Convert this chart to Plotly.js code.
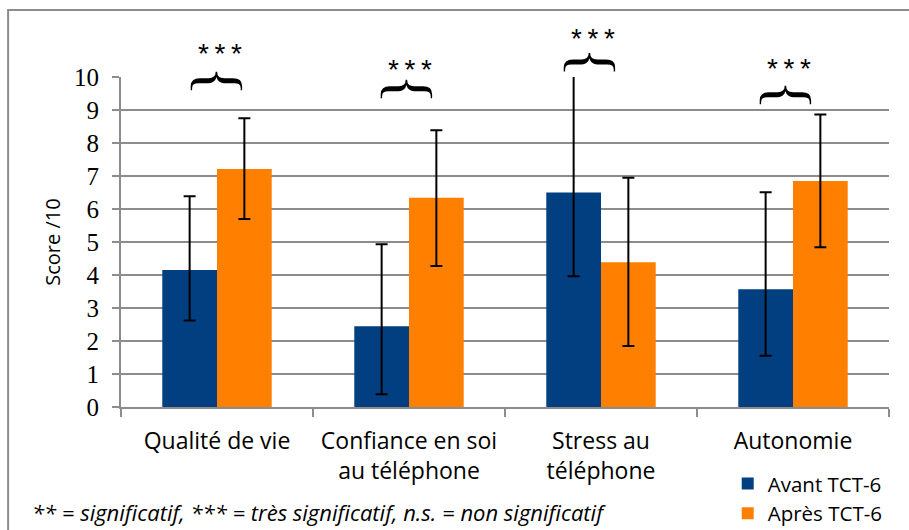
<!DOCTYPE html>
<html>
<head>
<meta charset="utf-8">
<script src="https://cdn.plot.ly/plotly-3.0.1.min.js"></script>
<style>html,body{margin:0;padding:0;background:#fff;}#chart{width:909px;height:530px;}</style>
</head>
<body>
<div id="chart"></div>
<script>
// Data
const categories = ["Qualité de vie", "Confiance en soi<br>au téléphone", "Stress au<br>téléphone", "Autonomie"];
const seriesNames = ["Avant TCT-6", "Après TCT-6"];
const avant = [4.15, 2.45, 6.50, 3.57];
const avantErrPlus = [2.24, 2.48, 3.70, 2.94];
const avantErrMinus = [1.53, 2.06, 2.54, 2.02];
const apres = [7.21, 6.34, 4.39, 6.85];
const apresErrPlus = [1.54, 2.05, 2.56, 2.01];
const apresErrMinus = [1.51, 2.07, 2.54, 2.01];
const significance = ["*\u2009*\u2009*", "*\u2009*\u2009*", "*\u2009*\u2009*", "*\u2009*\u2009*"];
const yTicks = [0,1,2,3,4,5,6,7,8,9,10];
const footnote = "** = significatif, *** = très significatif, n.s. = non significatif";
const yTitle = "Score /10";

const colors = ["#023F80", "#FF8000"];
const gridGray = "#8C8C8C";

const traces = [
  {
    type: "bar", name: seriesNames[0], x: categories, y: avant,
    marker: {color: colors[0]},
    error_y: {type: "data", symmetric: false, array: avantErrPlus, arrayminus: avantErrMinus,
              color: "#000", thickness: 2, width: 6}
  },
  {
    type: "bar", name: seriesNames[1], x: categories, y: apres,
    marker: {color: colors[1]},
    error_y: {type: "data", symmetric: false, array: apresErrPlus, arrayminus: apresErrMinus,
              color: "#000", thickness: 2, width: 6}
  }
];

// brace / stars positions (decoration), y in paper units (range 0..10 -> 0..1)
const braceX = [0.016, 1.005, 1.958, 2.98];
const braceY = [0.988, 0.964, 1.045, 0.945];
const starY = [1.07, 1.024, 1.118, 1.027];

const annotations = [];
for (let i = 0; i < categories.length; i++) {
  annotations.push({
    x: braceX[i], y: braceY[i], xref: "x", yref: "paper",
    text: "{", textangle: 90, showarrow: false,
    font: {family: "Liberation Serif", size: 62, color: "#000"},
    xanchor: "center", yanchor: "middle"
  });
  annotations.push({
    x: braceX[i], y: starY[i], xref: "x", yref: "paper",
    text: significance[i], showarrow: false,
    font: {family: "Liberation Sans", size: 28, color: "#000"},
    xanchor: "center", yanchor: "middle"
  });
}
annotations.push({
  x: -0.1185, y: -0.318, xref: "paper", yref: "paper",
  text: "<i>" + footnote + "</i>", showarrow: false,
  font: {family: "Open Sans", size: 22, color: "#000"},
  xanchor: "left", yanchor: "middle"
});

const layout = {
  width: 909, height: 530,
  margin: {l: 121, r: 20, t: 77, b: 123, autoexpand: false},
  paper_bgcolor: "#fff", plot_bgcolor: "#fff",
  barmode: "group", bargap: 0.43, bargroupgap: 0,
  showlegend: true,
  legend: {x: 0.79, y: -0.172, xanchor: "left", yanchor: "top",
           font: {family: "Open Sans", size: 20.5, color: "#000"},
           bgcolor: "rgba(0,0,0,0)"},
  xaxis: {
    type: "category", tickson: "boundaries", ticks: "outside", ticklen: 8, tickwidth: 2, tickcolor: gridGray,
    showline: true, linecolor: gridGray, linewidth: 2, showgrid: false, tickangle: 0,
    tickfont: {family: "Open Sans", size: 23, color: "#000"}, ticklabelstandoff: 12
  },
  yaxis: {
    range: [0, 10], tickvals: yTicks, ticktext: yTicks.map(String),
    ticks: "outside", ticklen: 7, tickwidth: 2, tickcolor: gridGray,
    showline: true, linecolor: gridGray, linewidth: 2,
    showgrid: true, gridcolor: gridGray, gridwidth: 2, zeroline: false,
    tickfont: {family: "Liberation Serif", size: 25, color: "#000"}, ticklabelstandoff: 8,
    title: {text: yTitle, font: {family: "Open Sans", size: 20, color: "#000"}, standoff: 8}
  },
  shapes: [
    {type: "rect", xref: "paper", yref: "paper", x0: -0.147, x1: 1.05, y0: -0.5, y1: 1.203,
     line: {color: gridGray, width: 2}, fillcolor: "rgba(0,0,0,0)", layer: "below"}
  ],
  annotations: annotations
};

Plotly.newPlot("chart", traces, layout, {displayModeBar: false, staticPlot: true});
</script>
</body>
</html>
